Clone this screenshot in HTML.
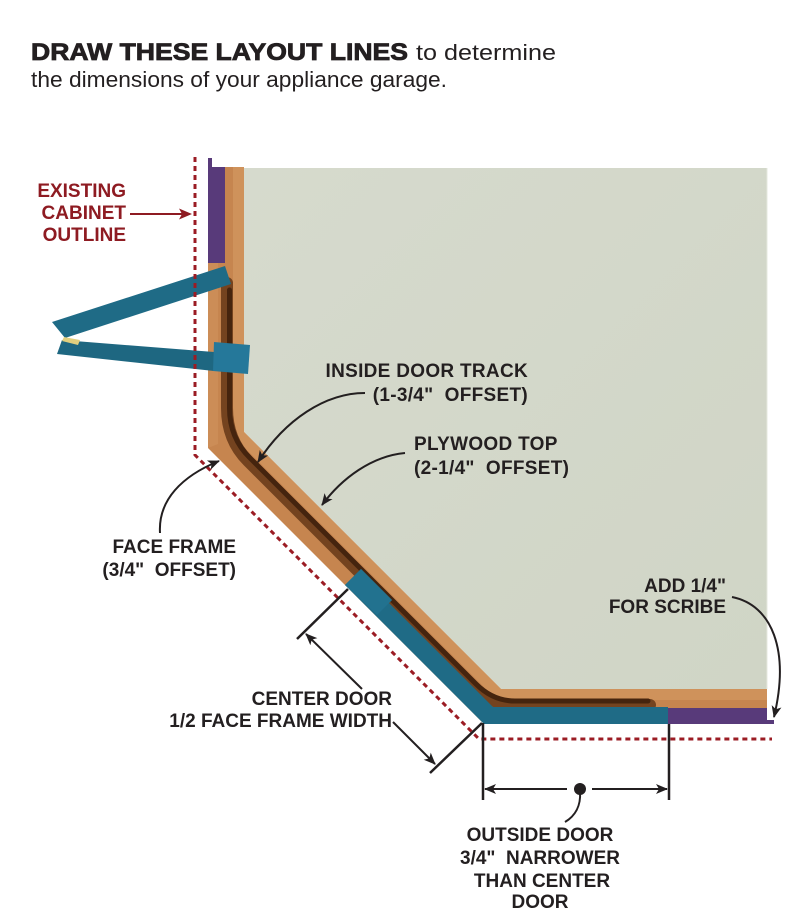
<!DOCTYPE html>
<html>
<head>
<meta charset="utf-8">
<style>
html,body{margin:0;padding:0;background:#fff;}
body{width:800px;height:924px;overflow:hidden;}
svg{display:block;}
.lbl{font-family:"Liberation Sans",Arial,sans-serif;font-weight:bold;font-size:19px;fill:#231f20;}
.red{font-family:"Liberation Sans",Arial,sans-serif;font-weight:bold;font-size:19px;fill:#8e1b22;}
</style>
</head>
<body>
<svg width="800" height="924" viewBox="0 0 800 924" xmlns="http://www.w3.org/2000/svg">
<defs>
<marker id="ah" viewBox="0 0 12 10" refX="11" refY="5" markerWidth="13" markerHeight="10" markerUnits="userSpaceOnUse" orient="auto">
<path d="M0,0 L12,5 L0,10 L3,5 z" fill="#231f20"/>
</marker>
<linearGradient id="pg" x1="0" y1="0" x2="1" y2="1">
<stop offset="0" stop-color="#d6dacd"/>
<stop offset="1" stop-color="#d0d5c6"/>
</linearGradient>
</defs>

<!-- Header -->
<text x="31" y="60" font-family="Liberation Sans, Arial, sans-serif" font-weight="bold" font-size="24" fill="#231f20" stroke="#231f20" stroke-width="0.8" textLength="377" lengthAdjust="spacingAndGlyphs">DRAW THESE LAYOUT LINES</text>
<text x="416" y="60" font-family="Liberation Sans, Arial, sans-serif" font-size="22" fill="#231f20" textLength="140" lengthAdjust="spacingAndGlyphs">to determine</text>
<text x="31" y="87" font-family="Liberation Sans, Arial, sans-serif" font-size="22.5" fill="#231f20" textLength="416" lengthAdjust="spacingAndGlyphs">the dimensions of your appliance garage.</text>

<!-- Panel -->
<polygon points="244,168 767,168 767,689 501,689 244,432" fill="url(#pg)"/>
<line x1="767" y1="168" x2="767" y2="689" stroke="#e6e8df" stroke-width="1"/>

<!-- Wood band -->
<polygon points="208,167 244,167 244,432 501,689 767,689 767,724 484,724 208,448" fill="#c6854f"/>
<!-- inner rail lighter -->
<polygon points="233,167 244,167 244,432 501,689 767,689 767,700 497,700 233,436" fill="#cf925b"/>
<!-- outer lighter face -->
<polygon points="208,263 218,263 218,444 208,448" fill="#cc8d57"/>

<!-- Groove (inside door track) -->
<path d="M227,283 L227,408 Q227,440 248,461 L474,687 Q492,705 515,705 L650,705" fill="none" stroke="#74431f" stroke-width="12" stroke-linecap="round"/>
<path d="M229.5,290 L229.5,408 Q229.5,438 250,458 L476,684 Q493,701 515,701 L648,701" fill="none" stroke="#45240e" stroke-width="5" stroke-linecap="round"/>

<!-- Purple -->
<polygon points="208,158 212,158 212,167 225,167 225,263 208,263" fill="#583a7a"/>
<polygon points="668,708 767,708 767,720 774,720 774,724 668,724" fill="#583a7a"/>

<!-- Teal diagonal + bottom -->
<polygon points="345,585 361,569 392,600 389,603 493,707 668,707 668,724 484,724" fill="#1f6b86"/>
<polygon points="345,585 361,569 392,600 377,615" fill="#22728f"/>

<!-- Clamp -->
<polygon points="52,322 225,266 231,284 65,338" fill="#1f6b86"/>
<polygon points="62,340 214,352 214,371 57,354" fill="#1e6781"/>
<polygon points="214,342 250,345 248,374 213,371" fill="#25789a"/>
<polygon points="64,337 80,340 78,345 62,341" fill="#e2cf7e"/>

<!-- Red dotted existing outline -->
<path d="M195,157 L195,455 L479,739 L772,739" fill="none" stroke="#9b1c24" stroke-width="3" stroke-dasharray="5,4"/>

<!-- Existing cabinet label + arrow -->
<text class="red" x="126" y="197" text-anchor="end">EXISTING</text>
<text class="red" x="126" y="219" text-anchor="end">CABINET</text>
<text class="red" x="126" y="241" text-anchor="end">OUTLINE</text>
<line x1="130" y1="214" x2="183" y2="214" stroke="#8e1b22" stroke-width="2"/>
<polygon points="192,214 179,208.5 182,214 179,219.5" fill="#8e1b22"/>

<!-- Inside door track -->
<text class="lbl" x="528" y="377" text-anchor="end" letter-spacing="0.3">INSIDE DOOR TRACK</text>
<text class="lbl" x="528" y="401" text-anchor="end" letter-spacing="0.3">(1-3/4"&#160; OFFSET)</text>
<path d="M365,393 C325,393 285,420 258,462" fill="none" stroke="#231f20" stroke-width="2" marker-end="url(#ah)"/>

<!-- Plywood top -->
<text class="lbl" x="414" y="450" letter-spacing="0.3">PLYWOOD TOP</text>
<text class="lbl" x="414" y="474" letter-spacing="0.3">(2-1/4"&#160; OFFSET)</text>
<path d="M405,453 C372,456 342,478 322,505" fill="none" stroke="#231f20" stroke-width="2" marker-end="url(#ah)"/>

<!-- Face frame -->
<text class="lbl" x="236" y="553" text-anchor="end">FACE FRAME</text>
<text class="lbl" x="236" y="576" text-anchor="end">(3/4"&#160; OFFSET)</text>
<path d="M160,533 C158,500 182,476 219,461" fill="none" stroke="#231f20" stroke-width="2" marker-end="url(#ah)"/>

<!-- Add 1/4 for scribe -->
<text class="lbl" x="726" y="592" text-anchor="end">ADD 1/4"</text>
<text class="lbl" x="726" y="613" text-anchor="end">FOR SCRIBE</text>
<path d="M732,597 C772,605 790,650 774,717" fill="none" stroke="#231f20" stroke-width="2" marker-end="url(#ah)"/>

<!-- Center door dimension -->
<line x1="297" y1="639" x2="348" y2="589" stroke="#231f20" stroke-width="2.5"/>
<line x1="362" y1="689" x2="306" y2="634" stroke="#231f20" stroke-width="2" marker-end="url(#ah)"/>
<line x1="393" y1="722" x2="435" y2="764" stroke="#231f20" stroke-width="2" marker-end="url(#ah)"/>
<line x1="430" y1="773" x2="482" y2="723" stroke="#231f20" stroke-width="2.5"/>
<text class="lbl" x="392" y="705" text-anchor="end">CENTER DOOR</text>
<text class="lbl" x="392" y="727" text-anchor="end">1/2 FACE FRAME WIDTH</text>

<!-- Outside door dimension -->
<line x1="483" y1="723" x2="483" y2="800" stroke="#231f20" stroke-width="2.5"/>
<line x1="669" y1="724" x2="669" y2="800" stroke="#231f20" stroke-width="2.5"/>
<line x1="567" y1="789" x2="485" y2="789" stroke="#231f20" stroke-width="2" marker-end="url(#ah)"/>
<line x1="592" y1="789" x2="667" y2="789" stroke="#231f20" stroke-width="2" marker-end="url(#ah)"/>
<circle cx="580" cy="789" r="6" fill="#231f20"/>
<path d="M580,792 C581,806 575,816 565,822" fill="none" stroke="#231f20" stroke-width="2"/>
<text class="lbl" x="540" y="841" text-anchor="middle">OUTSIDE DOOR</text>
<text class="lbl" x="540" y="864" text-anchor="middle">3/4"&#160; NARROWER</text>
<text class="lbl" x="542" y="887" text-anchor="middle">THAN CENTER</text>
<text class="lbl" x="540" y="908" text-anchor="middle">DOOR</text>
</svg>
</body>
</html>
